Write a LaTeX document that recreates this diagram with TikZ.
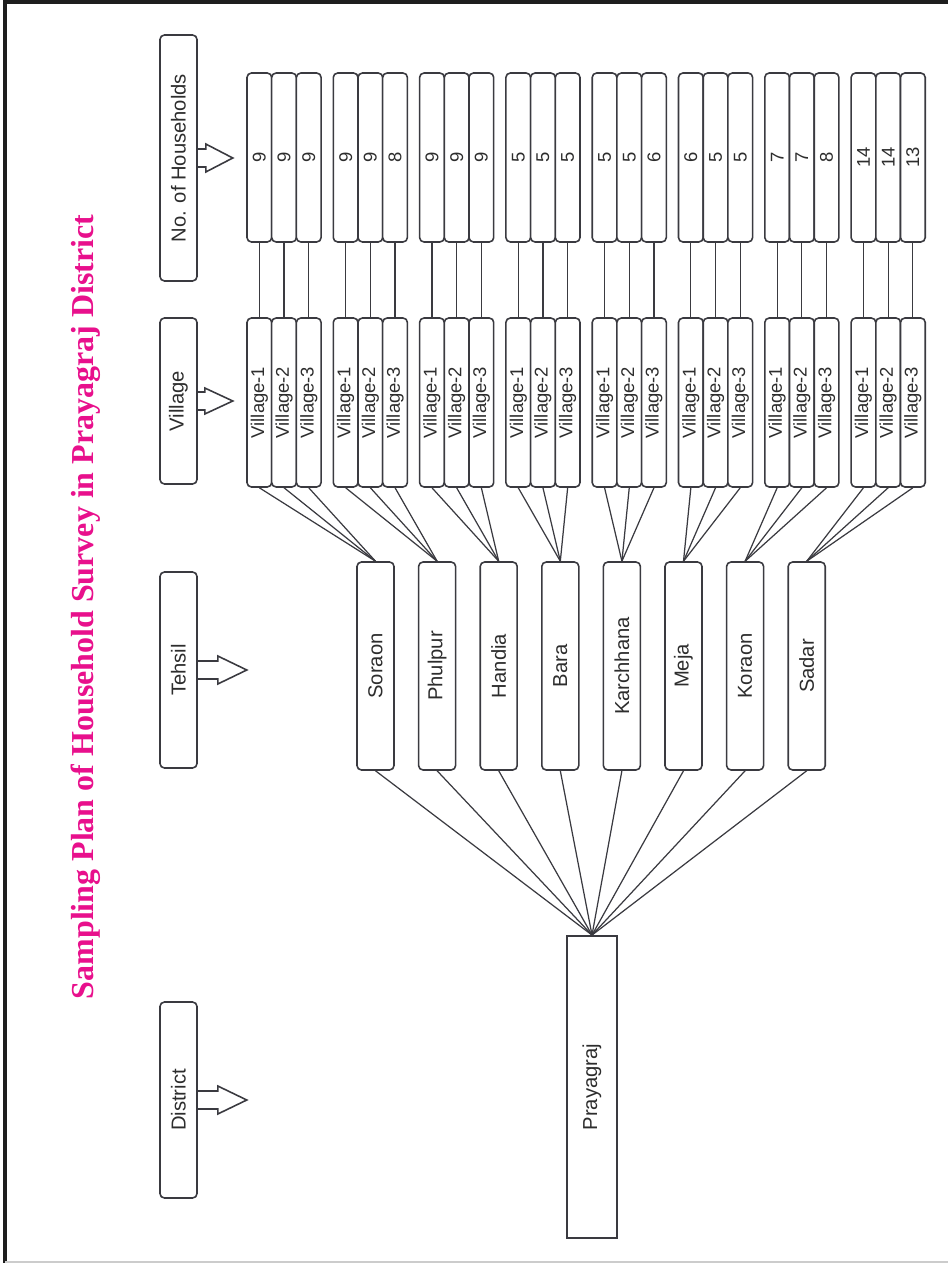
\documentclass[tikz,border=0pt]{standalone}
\usepackage{fontspec}
\setmainfont{Liberation Sans}
\newfontfamily\titlefont{Liberation Serif}
\usepackage{graphicx}
\definecolor{titlepink}{RGB}{232,16,140}
\definecolor{boxline}{RGB}{58,58,64}
\definecolor{inktext}{RGB}{45,45,45}
\definecolor{framegray}{RGB}{30,30,30}
\begin{document}
\begin{tikzpicture}[x=0.02cm,y=-0.02cm,
  box/.style={draw=boxline, line width=0.9pt, rounded corners=2.5pt, fill=white,
    inner sep=0pt, font=\fontsize{11.5}{14}\selectfont, text=inktext},
  hdr/.style={box, minimum width=0.74cm},
  cell/.style={box, font=\fontsize{10.5}{12}\selectfont, minimum width=0.494cm, minimum height=3.38cm},
  tehbox/.style={box, minimum width=0.74cm, minimum height=4.16cm},
  distbox/.style={box, rounded corners=0pt, line width=1.1pt, minimum width=1.0cm, minimum height=6.04cm},
  link/.style={draw=boxline, line width=0.7pt},
  blockarrow/.style={draw=boxline, line width=0.9pt, line join=miter}
]
\useasboundingbox (0,0) rectangle (948,1263);

% page frame
\draw[framegray, line width=2pt] (5,1263) -- (5,2) -- (948,2);
\draw[gray!40, line width=0.6pt] (5,1262) -- (948,1262);

% title
\node[rotate=90, text=titlepink, font=\titlefont\bfseries\fontsize{18.2}{20}\selectfont]
  (title) at (86,607) {Sampling Plan of Household Survey in Prayagraj District};

% level headers
\node[hdr, minimum height=4.92cm] (hhh) at (178.5,158) {\rotatebox{90}{No. of Households}};
\node[hdr, minimum height=3.32cm] (hvil) at (178.5,401) {\rotatebox{90}{Village}};
\node[hdr, minimum height=3.92cm] (hteh) at (178.5,670) {\rotatebox{90}{Tehsil}};
\node[hdr, minimum height=3.92cm] (hdist) at (178.5,1100) {\rotatebox{90}{District}};

% hollow block arrows beside the headers
\draw[blockarrow] (hhh.east) ++(0,-9) -- ++(8,0) -- ++(0,-5) -- ++(27,14) -- ++(-27,14) -- ++(0,-5) -- ++(-8,0);
\draw[blockarrow] (hvil.east) ++(0,-9) -- ++(7,0) -- ++(0,-4) -- ++(28,13) -- ++(-28,13) -- ++(0,-4) -- ++(-7,0);
\draw[blockarrow] (hteh.east) ++(0,-9) -- ++(20,0) -- ++(0,-5) -- ++(29,14) -- ++(-29,14) -- ++(0,-5) -- ++(-20,0);
\draw[blockarrow] (hdist.east) ++(0,-9) -- ++(20,0) -- ++(0,-5) -- ++(29,14) -- ++(-29,14) -- ++(0,-5) -- ++(-20,0);

% district
\node[distbox] (p) at (592,1087) {\rotatebox{90}{Prayagraj}};

% tehsils, their villages and household counts
\foreach \name/\a/\b/\c [count=\g from 0] in
  {Soraon/9/9/9, Phulpur/9/9/8, Handia/9/9/9, Bara/5/5/5,
   Karchhana/5/5/6, Meja/6/5/5, Koraon/7/7/8, Sadar/14/14/13} {
  \pgfmathsetmacro\gx{247+86.3*\g}
  \node[tehbox] (t\g) at ({375.5+61.6*\g},666) {\rotatebox{90}{\name}};
  \draw[link] (p.north) -- (t\g.south);
  \foreach \n/\k [count=\j from 0] in {1/\a, 2/\b, 3/\c} {
    \node[cell] (v\g-\n) at ({\gx+12.35+24.7*\j},402.5) {\rotatebox{90}{Village-\n}};
    \node[cell] (h\g-\n) at ({\gx+12.35+24.7*\j},157.5) {\rotatebox{90}{\k}};
    \draw[link] (t\g.north) -- (v\g-\n.south);
    \draw[link] (v\g-\n.north) -- (h\g-\n.south);
  }
}
\end{tikzpicture}
\end{document}
